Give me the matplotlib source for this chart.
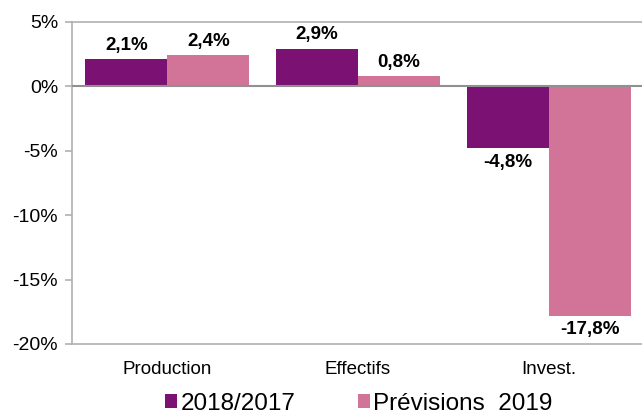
import matplotlib.pyplot as plt
import numpy as np

plt.rcParams['font.family'] = ['Liberation Sans', 'DejaVu Sans']

categories = ['Production', 'Effectifs', 'Invest.']
serie_2018 = [2.1, 2.9, -4.8]
serie_2019 = [2.4, 0.8, -17.8]
legend_labels = ['2018/2017', 'Prévisions  2019']
y_ticks = [5, 0, -5, -10, -15, -20]

purple = '#7B1173'
pink = '#D27498'
grey = '#B0B0B0'

fig = plt.figure(figsize=(6.42, 4.16), dpi=100)
ax = fig.add_axes([72 / 642, 72 / 416, 572 / 642, 322 / 416])

x = np.arange(len(categories))
w = 0.43
b1 = ax.bar(x - w / 2, serie_2018, w, color=purple, label=legend_labels[0])
b2 = ax.bar(x + w / 2, serie_2019, w, color=pink, label=legend_labels[1])

ax.set_xlim(-0.5, 2.5)
ax.set_ylim(-20, 5)
ax.set_yticks(y_ticks)
ax.set_yticklabels([f'{t}%' for t in y_ticks], fontsize=14)
ax.set_xticks(x)
ax.set_xticklabels(categories, fontsize=13.5)
ax.tick_params(axis='x', length=0, pad=12)
ax.tick_params(axis='y', length=5, color=grey, width=1.2, pad=5)

for side in ['top', 'bottom', 'left']:
    ax.spines[side].set_color(grey)
    ax.spines[side].set_linewidth(1.2)
ax.spines['right'].set_visible(False)
ax.axhline(0, color='#909090', lw=1.5, zorder=3)

# value labels with decimal comma
for bars, vals in [(b1, serie_2018), (b2, serie_2019)]:
    for bar, v in zip(bars, vals):
        cx = bar.get_x() + bar.get_width() / 2
        txt = f'{v:.1f}%'.replace('.', ',')
        if v >= 0:
            ax.annotate(txt, (cx, v), xytext=(0, 4), textcoords='offset points',
                        ha='center', va='bottom', fontsize=13.5, fontweight='bold')
        else:
            ax.annotate(txt, (cx, v), xytext=(0, -4), textcoords='offset points',
                        ha='center', va='top', fontsize=13.5, fontweight='bold')

fig.legend(handles=[b1, b2], labels=legend_labels, loc='lower center',
           bbox_to_anchor=(0.559, -0.05), ncol=2, frameon=False, fontsize=17.5,
           handlelength=0.5, handleheight=0.5, handletextpad=0.15, columnspacing=2.55)

fig.savefig('out.png', dpi=100)
